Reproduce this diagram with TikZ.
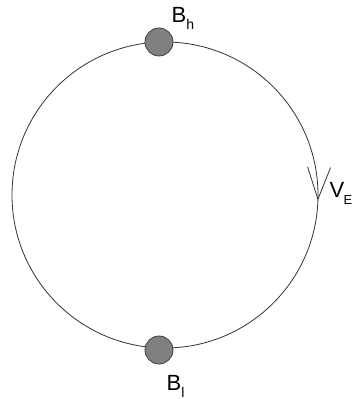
\documentclass[tikz,border=0pt]{standalone}
\usepackage{fontspec}
\setmainfont{Liberation Sans}
\usepackage{tikz}
\usetikzlibrary{decorations.markings, arrows.meta}
\tikzset{->-/.style={decoration={markings, mark=at position #1 with {\arrow{Straight Barb[length=32pt, width=23pt, line width=0.8pt]}}}, postaction={decorate}}}
\tikzset{blob/.style={circle, draw=black!75, fill=black!50, line width=0.8pt, minimum size=28pt, inner sep=0pt}}
\tikzset{lbl/.style={anchor=base west, inner sep=0pt, font=\fontsize{22}{24}\selectfont}}
\newcommand{\sbs}[1]{\raisebox{-7pt}{\fontsize{14}{14}\selectfont #1}}

\begin{document}
\begin{tikzpicture}[x=1pt, y=1pt]
\useasboundingbox (0,0) rectangle (353,399);
\coordinate (ctr) at (165,204);
\draw[black!80, line width=0.8pt, ->-=0.2556] (ctr) ++(90:153) arc[start angle=90, delta angle=-360, radius=153];
\node[blob] (hi) at (159,357) {}; \node[lbl] (bh) at (171.5,376) {B\sbs{h}};
\node[blob] (lo) at (159,49) {}; \node[lbl] (bl) at (166.5,9) {B\sbs{l}};
\node[lbl] (ve) at (329.5,201) {V\kern-0.8pt\raisebox{-7pt}{\fontsize{13}{13}\selectfont E}};
\end{tikzpicture}
\end{document}
